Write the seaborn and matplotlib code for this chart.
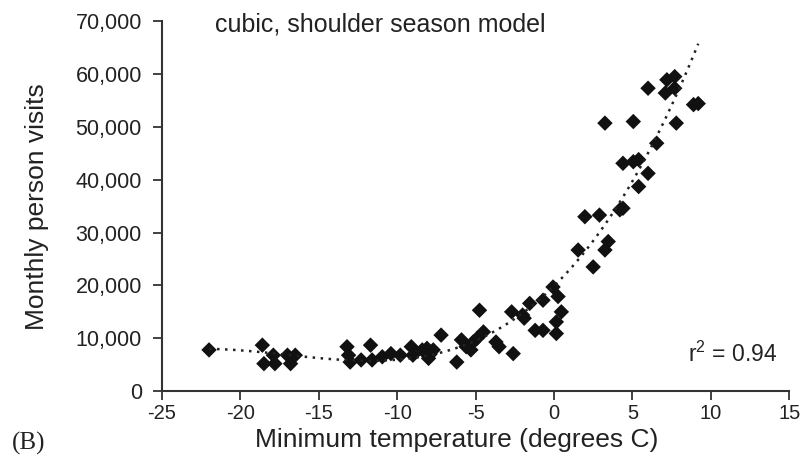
import numpy as np
import pandas as pd
import matplotlib
matplotlib.use("Agg")
import matplotlib.pyplot as plt
import seaborn as sns
from matplotlib.ticker import FuncFormatter

# Data
min_temp = [-22.0, -18.6, -18.5, -17.9, -17.8, -17.0, -16.5, -16.8,
            -13.2, -13.1, -13.0, -12.3, -11.7, -11.6, -10.95, -10.4,
            -9.8, -9.1, -9.0, -8.4, -8.1, -8.0, -7.9, -7.7, -7.2,
            -6.2, -5.9, -5.6, -5.3, -5.15, -4.9, -4.75, -4.5, -3.7,
            -3.5, -2.7, -2.6, -2.0, -1.9, -1.55, -1.2, -0.7, -0.7,
            -0.06, 0.15, 0.26, 0.47, 0.15, 1.54, 1.97, 2.5, 2.9,
            3.25, 3.46, 3.25, 4.2, 4.4, 4.4, 5.06, 5.4, 5.4, 5.06,
            6.0, 6.0, 6.55, 7.1, 7.2, 7.7, 7.7, 7.8, 8.9, 9.2]
visits = [7800, 8700, 5200, 6800, 5200, 6800, 6800, 5200,
          8400, 6800, 5500, 5900, 8700, 5900, 6500, 7100,
          6800, 8400, 6800, 7800, 8100, 6200, 7000, 7800, 10600,
          5500, 9700, 8400, 7800, 9300, 10000, 15300, 11200, 9300,
          8400, 15000, 7100, 14400, 13800, 16600, 11500, 11500, 17200,
          19700, 13100, 17900, 15000, 10900, 26700, 33000, 23500, 33300,
          26700, 28300, 50700, 34300, 34600, 43100, 43400, 43800, 38700, 51000,
          41200, 57300, 46900, 56400, 58900, 59500, 57300, 50700, 54200, 54400]

x_ticks = [-25, -20, -15, -10, -5, 0, 5, 10, 15]
y_ticks = [0, 10000, 20000, 30000, 40000, 50000, 60000, 70000]

title_text = "cubic, shoulder season model"
r2_text = "r$^2$ = 0.94"
xlabel = "Minimum temperature (degrees C)"
ylabel = "Monthly person visits"
panel_label = "(B)"

df = pd.DataFrame({"temp": min_temp, "visits": visits})

sns.set_theme(style="ticks")
plt.rcParams["font.family"] = ["Liberation Sans", "DejaVu Sans"]
plt.rcParams["mathtext.fontset"] = "custom"
plt.rcParams["mathtext.rm"] = "Liberation Sans"

fig = plt.figure(figsize=(8.02, 4.69), dpi=100)
ax = fig.add_axes([0.202, 0.166, 0.782, 0.789])

sns.regplot(data=df, x="temp", y="visits", order=3, ci=None, ax=ax,
            marker="D",
            scatter_kws=dict(s=62, color="#111111", edgecolors="none", alpha=1),
            line_kws=dict(color="#222222", linewidth=1.8, linestyle=(0, (1, 2.2))))

ax.set_xlim(-25, 15)
ax.set_ylim(0, 70000)
ax.set_xticks(x_ticks)
ax.set_yticks(y_ticks)
ax.yaxis.set_major_formatter(FuncFormatter(lambda v, p: f"{int(v):,}"))
ax.xaxis.set_major_formatter(FuncFormatter(lambda v, p: f"{int(v)}"))

for s in ["top", "right"]:
    ax.spines[s].set_visible(False)
for s in ["left", "bottom"]:
    ax.spines[s].set_color("#333333")
    ax.spines[s].set_linewidth(1.5)
ax.tick_params(axis="both", direction="out", length=6.5, width=1.3,
               color="#333333", labelcolor="#222222")
ax.tick_params(axis="x", labelsize=14.5, pad=3)
ax.tick_params(axis="y", labelsize=15.5, pad=8)

ax.set_xlabel(xlabel, fontsize=19, color="#222222")
ax.set_ylabel(ylabel, fontsize=19, color="#222222")
ax.xaxis.set_label_coords(0.47, -0.1)
ax.xaxis.label.set_va("top")
ax.yaxis.set_label_coords(-0.18, 0.5)

ax.text(0.085, 0.973, title_text, transform=ax.transAxes, fontsize=18,
        color="#222222", ha="left", va="baseline")
ax.text(0.981, 0.078, r2_text, transform=ax.transAxes, fontsize=16.5,
        color="#222222", ha="right", va="baseline")
fig.text(0.015, 0.055, panel_label, fontsize=18, color="#222222",
         family=["Liberation Serif", "DejaVu Serif"], ha="left", va="center")

fig.savefig("out.png", dpi=100)
